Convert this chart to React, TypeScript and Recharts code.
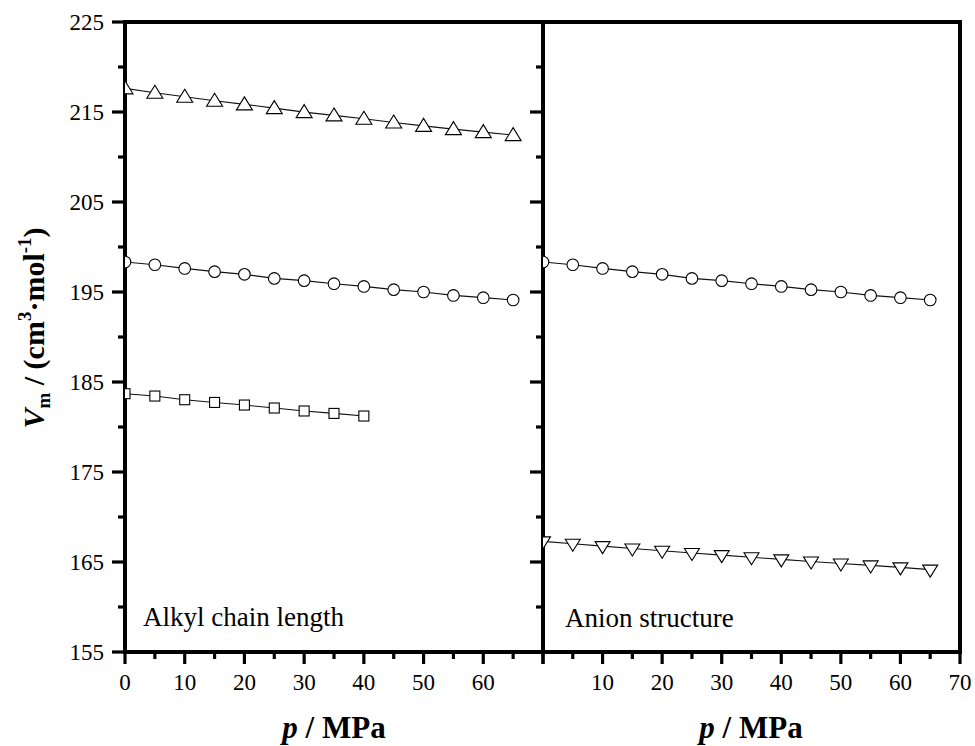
import React from 'react';
import { LineChart, Line, XAxis, YAxis, ReferenceLine } from 'recharts';

const FONT = "'Liberation Serif', 'Times New Roman', serif";

const pressure = [0, 5, 10, 15, 20, 25, 30, 35, 40, 45, 50, 55, 60, 65];
const alkylTriangle = [217.63, 217.14, 216.69, 216.25, 215.85, 215.43, 214.99, 214.62, 214.25, 213.84, 213.46, 213.1, 212.76, 212.43];
const alkylCircle = [198.33, 198.03, 197.62, 197.26, 196.96, 196.51, 196.26, 195.92, 195.62, 195.26, 195.0, 194.62, 194.37, 194.11];
const alkylSquarePressure = [0, 5, 10, 15, 20, 25, 30, 35, 40];
const alkylSquare = [183.7, 183.44, 183.03, 182.73, 182.44, 182.11, 181.78, 181.51, 181.22];
const anionCircle = [198.33, 198.03, 197.62, 197.26, 196.96, 196.51, 196.26, 195.92, 195.62, 195.26, 195.0, 194.62, 194.37, 194.11];
const anionInvTriangle = [167.29, 167.02, 166.76, 166.5, 166.25, 166.0, 165.76, 165.52, 165.29, 165.06, 164.84, 164.62, 164.4, 164.15];

const xTicks = [0, 5, 10, 15, 20, 25, 30, 35, 40, 45, 50, 55, 60, 65, 70];
const yTicks = [155, 160, 165, 170, 175, 180, 185, 190, 195, 200, 205, 210, 215, 220, 225];

const triData = pressure.map((p, i) => ({ p, v: alkylTriangle[i] }));
const circLeftData = pressure.map((p, i) => ({ p, v: alkylCircle[i] }));
const sqData = alkylSquarePressure.map((p, i) => ({ p, v: alkylSquare[i] }));
const circRightData = pressure.map((p, i) => ({ p, v: anionCircle[i] }));
const invData = pressure.map((p, i) => ({ p, v: anionInvTriangle[i] }));

const ok = (p: any) => p && p.cx != null && p.cy != null && !isNaN(p.cx) && !isNaN(p.cy);

const TriDot = (p: any) => {
  if (!ok(p)) return <g key={p.index} />;
  const { cx, cy } = p;
  return (
    <polygon key={p.index} points={`${cx},${cy - 7.5} ${cx - 8},${cy + 5.5} ${cx + 8},${cy + 5.5}`} fill="#fff" stroke="#000" strokeWidth={1.1} />
  );
};
const InvDot = (p: any) => {
  if (!ok(p)) return <g key={p.index} />;
  const { cx, cy } = p;
  return (
    <polygon key={p.index} points={`${cx - 7.5},${cy - 4.5} ${cx + 7.5},${cy - 4.5} ${cx},${cy + 7.5}`} fill="#fff" stroke="#000" strokeWidth={1.1} />
  );
};
const CircDot = (p: any) => {
  if (!ok(p)) return <g key={p.index} />;
  return <circle key={p.index} cx={p.cx} cy={p.cy} r={5.8} fill="#fff" stroke="#000" strokeWidth={1.1} />;
};
const SqDot = (p: any) => {
  if (!ok(p)) return <g key={p.index} />;
  return <rect key={p.index} x={p.cx - 5} y={p.cy - 5} width={10} height={10} fill="#fff" stroke="#000" strokeWidth={1.1} />;
};

const XTick = (props: any) => {
  const { x, y, payload, skip } = props;
  const v = payload.value;
  const major = v % 10 === 0;
  return (
    <g>
      <line x1={x} x2={x} y1={y} y2={y + (major ? 12 : 7)} stroke="#000" strokeWidth={3.2} />
      {major && !skip.includes(v) && (
        <text x={x} y={y + 38} textAnchor="middle" fontSize={23} fontFamily={FONT} fill="#000">
          {v}
        </text>
      )}
    </g>
  );
};

const YTickLeft = (props: any) => {
  const { x, y, payload } = props;
  const v = payload.value;
  const major = (v - 155) % 10 === 0;
  return (
    <g>
      <line x1={x - (major ? 13 : 7)} x2={x} y1={y} y2={y} stroke="#000" strokeWidth={3.2} />
      {major && (
        <text x={x - 21} y={y} dy="0.35em" textAnchor="end" fontSize={23} fontFamily={FONT} fill="#000">
          {v}
        </text>
      )}
    </g>
  );
};

const YTickRight = (props: any) => {
  const { x, y, payload } = props;
  const v = payload.value;
  const major = (v - 155) % 10 === 0;
  return <line x1={x - (major ? 13 : 7)} x2={x} y1={y} y2={y} stroke="#000" strokeWidth={3.2} />;
};

const axisLine = { stroke: '#000', strokeWidth: 4, strokeLinecap: 'square' as const };

const css = `
.recharts-cartesian-axis-line { stroke: #000 !important; stroke-width: 4px !important; stroke-linecap: square; }
.recharts-reference-line-line { stroke: #000 !important; stroke-width: 4px !important; stroke-linecap: square; }
`;

export default function App() {
  return (
    <div style={{ position: 'absolute', left: 0, top: 0, width: 975, height: 746, background: '#fff', overflow: 'hidden' }}>
      <style>{css}</style>
      <div style={{ position: 'absolute', left: 0, top: 0 }}>
        <LineChart width={561} height={746} margin={{ top: 22, right: 0, bottom: 54, left: 0 }}>
          <XAxis
            type="number"
            dataKey="p"
            domain={[0, 70]}
            ticks={xTicks}
            interval={0}
            allowDataOverflow
            tickSize={0}
            tickMargin={0}
            tickLine={false}
            axisLine={axisLine}
            height={40}
            tick={(p: any) => <XTick {...p} skip={[70]} />}
          />
          <YAxis
            yAxisId="l"
            orientation="left"
            type="number"
            domain={[155, 225]}
            ticks={yTicks}
            interval={0}
            allowDataOverflow
            width={125}
            tickSize={0}
            tickMargin={0}
            tickLine={false}
            axisLine={axisLine}
            tick={(p: any) => <YTickLeft {...p} />}
          />
          <YAxis
            yAxisId="r"
            orientation="right"
            type="number"
            domain={[155, 225]}
            ticks={yTicks}
            interval={0}
            allowDataOverflow
            width={18}
            tickSize={0}
            tickMargin={0}
            tickLine={false}
            axisLine={axisLine}
            tick={(p: any) => <YTickRight {...p} />}
          />
          <ReferenceLine yAxisId="l" y={225} stroke="#000" strokeWidth={4} />
          <Line yAxisId="l" data={triData} dataKey="v" stroke="#111" strokeWidth={1.1} dot={TriDot} isAnimationActive={false} />
          <Line yAxisId="l" data={circLeftData} dataKey="v" stroke="#111" strokeWidth={1.1} dot={CircDot} isAnimationActive={false} />
          <Line yAxisId="l" data={sqData} dataKey="v" stroke="#111" strokeWidth={1.1} dot={SqDot} isAnimationActive={false} />
        </LineChart>
      </div>
      <div style={{ position: 'absolute', left: 531, top: 0 }}>
        <LineChart width={444} height={746} margin={{ top: 22, right: 15, bottom: 54, left: 12 }}>
          <XAxis
            type="number"
            dataKey="p"
            domain={[0, 70]}
            ticks={xTicks}
            interval={0}
            allowDataOverflow
            tickSize={0}
            tickMargin={0}
            tickLine={false}
            axisLine={axisLine}
            height={40}
            tick={(p: any) => <XTick {...p} skip={[0]} />}
          />
          <YAxis type="number" domain={[155, 225]} allowDataOverflow hide />
          <ReferenceLine y={225} stroke="#000" strokeWidth={4} />
          <ReferenceLine x={70} stroke="#000" strokeWidth={4} />
          <Line data={circRightData} dataKey="v" stroke="#111" strokeWidth={1.1} dot={CircDot} isAnimationActive={false} />
          <Line data={invData} dataKey="v" stroke="#111" strokeWidth={1.1} dot={InvDot} isAnimationActive={false} />
        </LineChart>
      </div>
      <svg width={975} height={746} style={{ position: 'absolute', left: 0, top: 0, pointerEvents: 'none' }}>
        <text x={143} y={626} fontSize={27} fontFamily={FONT} fill="#000">Alkyl chain length</text>
        <text x={565} y={627} fontSize={27} fontFamily={FONT} fill="#000">Anion structure</text>
        <text x={334} y={738} textAnchor="middle" fontSize={31} fontWeight="bold" fontFamily={FONT} fill="#000">
          <tspan fontStyle="italic">p</tspan> / MPa
        </text>
        <text x={751} y={738} textAnchor="middle" fontSize={31} fontWeight="bold" fontFamily={FONT} fill="#000">
          <tspan fontStyle="italic">p</tspan> / MPa
        </text>
        <text transform="translate(44, 328) rotate(-90)" textAnchor="middle" fontSize={30} fontWeight="bold" fontFamily={FONT} fill="#000">
          <tspan fontStyle="italic">V</tspan>
          <tspan fontSize={19} dy={6}>m</tspan>
          <tspan dy={-6}> / (cm</tspan>
          <tspan fontSize={19} dy={-13}>3</tspan>
          <tspan dy={13}>·mol</tspan>
          <tspan fontSize={19} dy={-13}>-1</tspan>
          <tspan dy={13}>)</tspan>
        </text>
      </svg>
    </div>
  );
}
